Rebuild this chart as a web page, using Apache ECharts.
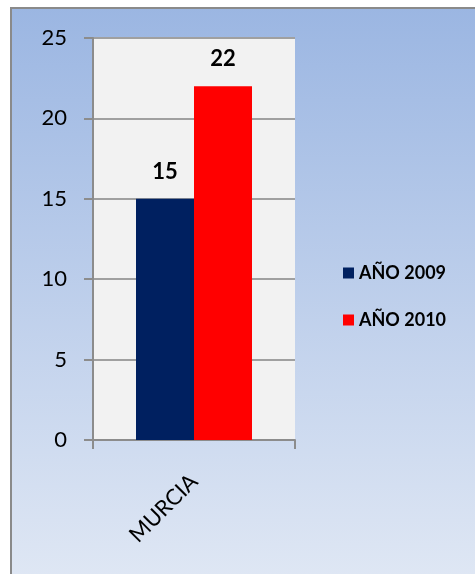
<!DOCTYPE html>
<html><head><meta charset="utf-8">
<script src="https://cdn.jsdelivr.net/npm/echarts@6/dist/echarts.min.js"></script>
<style>html,body{margin:0;padding:0;background:#fff}#c{width:475px;height:574px}</style>
</head><body><div id="c"></div>
<script>
const categories = ["MURCIA"];
const series2009 = [15];
const series2010 = [22];
const seriesNames = ["AÑO 2009", "AÑO 2010"];
const yTicks = [0, 5, 10, 15, 20, 25];

const chart = echarts.init(document.getElementById('c'));
const font = 'Lato, "Open Sans", sans-serif';
chart.setOption({
  backgroundColor: '#ffffff',
  animation: false,
  graphic: [{
    type: 'rect', z: -10, silent: true,
    shape: {x: 11, y: 8, width: 470, height: 570},
    style: {
      fill: new echarts.graphic.LinearGradient(0, 0, 0, 1, [
        {offset: 0, color: '#9bb6e2'},
        {offset: 1, color: '#dfe7f4'}
      ]),
      stroke: '#8a8a8a', lineWidth: 2
    }
  }],
  grid: {left: 93, top: 38, width: 202, height: 402, show: true, backgroundColor: '#f2f2f2', borderWidth: 0},
  legend: {
    orient: 'vertical', left: 338, top: 259, itemWidth: 11, itemHeight: 11, itemGap: 29,
    icon: 'rect', data: seriesNames, itemStyle: {borderWidth: 0},
    textStyle: {fontFamily: font, fontWeight: 'bold', fontSize: 18, color: '#000'}
  },
  xAxis: {
    type: 'category', data: categories,
    axisLine: {lineStyle: {color: '#8c8c8c', width: 2}},
    axisTick: {show: true, length: 9, lineStyle: {color: '#8c8c8c', width: 2}},
    axisLabel: {rotate: 45, margin: 38, fontFamily: font, fontSize: 22, color: '#000'}
  },
  yAxis: {
    type: 'value', min: yTicks[0], max: yTicks[yTicks.length - 1], interval: 5,
    axisLine: {show: true, lineStyle: {color: '#8c8c8c', width: 2}},
    axisTick: {show: true, length: 9, lineStyle: {color: '#8c8c8c', width: 2}},
    splitLine: {show: true, lineStyle: {color: '#a0a0a0', width: 2}},
    axisLabel: {margin: 26, fontFamily: font, fontSize: 22, color: '#000'}
  },
  series: [
    {name: seriesNames[0], type: 'bar', data: series2009, barWidth: 58, barGap: '0%',
     itemStyle: {color: '#002060'},
     label: {show: true, position: 'top', distance: 16, fontFamily: font, fontWeight: 'bold', fontSize: 22, color: '#000'}},
    {name: seriesNames[1], type: 'bar', data: series2010, barWidth: 58, barGap: '0%',
     itemStyle: {color: '#ff0000'},
     label: {show: true, position: 'top', distance: 16, fontFamily: font, fontWeight: 'bold', fontSize: 22, color: '#000'}}
  ]
});
</script></body></html>
